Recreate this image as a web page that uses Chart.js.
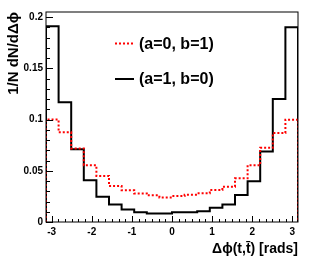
<!DOCTYPE html>
<html>
<head>
<meta charset="utf-8">
<script src="https://cdn.jsdelivr.net/npm/chart.js@4"></script>
<style>
  html, body { margin: 0; padding: 0; background: #fff; }
</style>
</head>
<body>
<canvas id="chart" width="315" height="264"></canvas>
<script>
// 20 bins of width pi/10 over [-pi, pi]
const binEdges = Array.from({ length: 21 }, (_, i) => -Math.PI + i * Math.PI / 10);

const seriesLabels = ['(a=0, b=1)', '(a=1, b=0)'];

// (a=0, b=1) - red dotted
const valuesA0B1 = [0.100, 0.0875, 0.0718, 0.0554, 0.045, 0.0351, 0.031, 0.0279, 0.026, 0.024,
                    0.0253, 0.0267, 0.028, 0.0312, 0.0345, 0.0426, 0.0554, 0.0724, 0.0868, 0.0998];

// (a=1, b=0) - black solid
const valuesA1B0 = [0.191, 0.117, 0.071, 0.0407, 0.0247, 0.0172, 0.0123, 0.0096, 0.0083, 0.0083,
                    0.0096, 0.0096, 0.0105, 0.0139, 0.0172, 0.0263, 0.0397, 0.0688, 0.120, 0.190];

const xTickValues = Array.from({ length: 37 }, (_, i) => (i - 18) / 6);   // -3 .. 3, 6 subdivisions
const yTickValues = Array.from({ length: 21 }, (_, i) => i / 100);        // 0 .. 0.2

const xTitle = 'Δϕ(t,t\u0304) [rads]';
const yTitle = '1/N dN/dΔϕ';

// turn bin contents into step points (closed down to zero at both ends)
function toSteps(vals) {
  const pts = [{ x: binEdges[0], y: 0 }];
  vals.forEach((v, i) => pts.push({ x: binEdges[i], y: v }));
  pts.push({ x: binEdges[vals.length], y: vals[vals.length - 1] });
  pts.push({ x: binEdges[vals.length], y: 0 });
  return pts;
}

const isMajorX = v => Math.abs(v - Math.round(v)) < 1e-6;
const isMajorY = v => Math.round(v * 100) % 5 === 0;

// ROOT-like frame with ticks pointing inwards
const frameTicks = {
  id: 'frameTicks',
  afterDatasetsDraw(chart) {
    const { ctx, chartArea: a, scales: { x, y } } = chart;
    ctx.save();
    ctx.strokeStyle = '#000';
    ctx.lineWidth = 1;
    ctx.strokeRect(a.left, a.top, a.right - a.left, a.bottom - a.top);
    ctx.beginPath();
    x.ticks.forEach(t => {
      const px = Math.round(x.getPixelForValue(t.value)) + 0.5;
      const len = isMajorX(t.value) ? 6 : 3;
      ctx.moveTo(px, a.bottom);
      ctx.lineTo(px, a.bottom - len);
    });
    y.ticks.forEach(t => {
      const py = Math.round(y.getPixelForValue(t.value)) + 0.5;
      const len = isMajorY(t.value) ? 7 : 4;
      ctx.moveTo(a.left, py);
      ctx.lineTo(a.left + len, py);
    });
    ctx.stroke();
    ctx.restore();
  }
};

// legend box inside the frame
const boxLegend = {
  id: 'boxLegend',
  afterDraw(chart) {
    const ctx = chart.ctx;
    ctx.save();
    ctx.font = 'bold 16px "Liberation Sans", Arial, sans-serif';
    ctx.textBaseline = 'middle';
    ctx.fillStyle = '#000';
    chart.data.datasets.forEach((ds, i) => {
      const yy = 43.5 + i * 35.5;
      ctx.strokeStyle = ds.borderColor;
      ctx.lineWidth = ds.borderWidth;
      ctx.setLineDash(ds.borderDash || []);
      ctx.beginPath();
      ctx.moveTo(115, yy);
      ctx.lineTo(134, yy);
      ctx.stroke();
      ctx.fillText(ds.label, 139, yy + 1);
    });
    ctx.restore();
  }
};

const ctx = document.getElementById('chart').getContext('2d');
new Chart(ctx, {
  type: 'line',
  data: {
    datasets: [{
      label: seriesLabels[0],
      data: toSteps(valuesA0B1),
      borderColor: '#ff0000',
      borderWidth: 2,
      borderDash: [2, 2],
      stepped: 'before',
      pointRadius: 0,
      fill: false
    }, {
      label: seriesLabels[1],
      data: toSteps(valuesA1B0),
      borderColor: '#000000',
      borderWidth: 2,
      stepped: 'before',
      pointRadius: 0,
      fill: false
    }]
  },
  options: {
    responsive: false,
    animation: false,
    devicePixelRatio: 1,
    layout: { padding: { left: 0, right: 17, top: 12, bottom: 0 } },
    plugins: { legend: { display: false }, tooltip: { enabled: false } },
    scales: {
      x: {
        type: 'linear',
        min: -Math.PI,
        max: Math.PI,
        afterBuildTicks: s => { s.ticks = xTickValues.map(v => ({ value: v })); },
        afterFit: s => { s.height = 42; },
        grid: { display: false, drawTicks: false },
        border: { display: false },
        ticks: {
          autoSkip: false,
          maxRotation: 0,
          padding: 4,
          color: '#000',
          font: { family: 'Liberation Sans', size: 10, weight: 'bold' },
          callback: v => isMajorX(v) ? String(Math.round(v)) : ''
        },
        title: {
          display: true,
          text: xTitle,
          align: 'end',
          color: '#000',
          padding: { top: 0, bottom: 6 },
          font: { family: 'Liberation Sans', size: 14, weight: 'bold' }
        }
      },
      y: {
        type: 'linear',
        min: 0,
        max: 0.205,
        afterBuildTicks: s => { s.ticks = yTickValues.map(v => ({ value: v })); },
        afterFit: s => { s.width = 46; },
        grid: { display: false, drawTicks: false },
        border: { display: false },
        ticks: {
          autoSkip: false,
          padding: 3,
          color: '#000',
          font: { family: 'Liberation Sans', size: 10, weight: 'bold' },
          callback: v => isMajorY(v) ? String(Math.round(v * 100) / 100) : ''
        },
        title: {
          display: true,
          text: yTitle,
          align: 'end',
          color: '#000',
          padding: { top: 5, bottom: 0 },
          font: { family: 'Liberation Sans', size: 15, weight: 'bold' }
        }
      }
    }
  },
  plugins: [frameTicks, boxLegend]
});
</script>
</body>
</html>
